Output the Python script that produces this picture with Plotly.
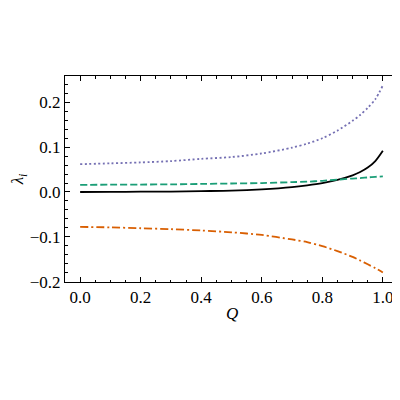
import plotly.graph_objects as go

Q = [0.0, 0.1, 0.2, 0.3, 0.4, 0.5, 0.6, 0.7, 0.75, 0.8, 0.85, 0.9, 0.925, 0.95, 0.975, 1.0]
lam_black = [0.000, 0.0003, 0.0006, 0.001, 0.002, 0.003, 0.006, 0.011, 0.015, 0.020, 0.027, 0.037, 0.0445, 0.0545, 0.069, 0.092]
lam_green = [0.016, 0.0163, 0.0166, 0.017, 0.018, 0.019, 0.020, 0.022, 0.023, 0.025, 0.0275, 0.030, 0.031, 0.0325, 0.0338, 0.035]
lam_orange = [-0.078, -0.079, -0.081, -0.083, -0.086, -0.090, -0.096, -0.106, -0.112, -0.121, -0.132, -0.145, -0.153, -0.1615, -0.170, -0.180]
lam_purple = [0.062, 0.064, 0.066, 0.069, 0.074, 0.078, 0.086, 0.099, 0.108, 0.120, 0.137, 0.159, 0.172, 0.188, 0.207, 0.238]

series = [
    (lam_black, "black", "solid"),
    (lam_green, "#1b9e77", "7px,3px"),
    (lam_orange, "#d95f02", "8px,3px,2px,3px"),
    (lam_purple, "#7570b3", "2px,2.5px"),
]

fig = go.Figure()
for vals, col, dash in series:
    fig.add_trace(go.Scatter(x=Q, y=vals, mode="lines",
                             line=dict(color=col, width=1.8, dash=dash, shape="spline", smoothing=0.8),
                             showlegend=False))

font = dict(family="Liberation Serif, Times New Roman, serif", size=17, color="black")
axis_common = dict(showline=True, linecolor="black", linewidth=1, mirror="allticks",
                   ticks="inside", ticklen=5, tickwidth=1, tickcolor="black",
                   showgrid=False, zeroline=False, tickfont=font, tickformat=".1f",
                   automargin=False)

fig.update_xaxes(range=[-0.05, 1.05], dtick=0.2, tick0=0,
                 minor=dict(ticks="inside", ticklen=2.5, dtick=0.05, tickcolor="black", showgrid=False),
                 **axis_common)
fig.update_yaxes(range=[-0.201, 0.259], dtick=0.1, tick0=0,
                 minor=dict(ticks="inside", ticklen=2.5, dtick=0.02, tickcolor="black", showgrid=False),
                 title=dict(text="<i>λ</i><sub><i>i</i></sub>", font=font, standoff=8), **axis_common)

fig.add_annotation(text="<i>Q</i>", xref="paper", yref="paper", x=0.5, y=0,
                   xanchor="center", yanchor="middle", yshift=-31, showarrow=False, font=font)

# page body has an 8px default margin, so the figure is sized/placed to compensate
fig.update_layout(width=392, height=392, margin=dict(l=57, r=1.5, t=68, b=118),
                  plot_bgcolor="white", paper_bgcolor="white", font=font)

fig.write_html("out.html")
